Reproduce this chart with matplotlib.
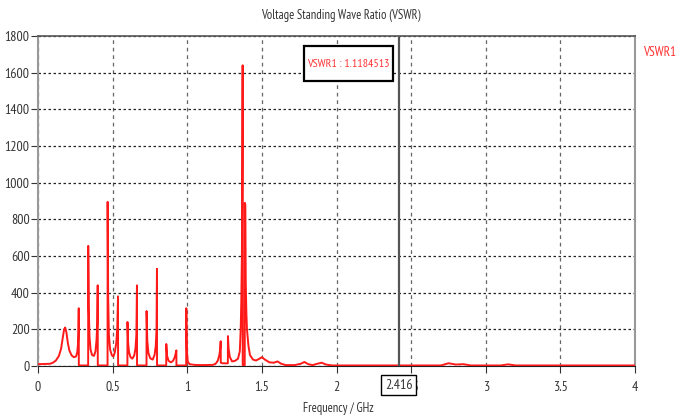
import matplotlib
matplotlib.use("Agg")
import matplotlib.pyplot as plt
from matplotlib.patches import Rectangle

# VSWR trace: (GHz, VSWR)
freq_low = [0.00, 0.08, 0.10, 0.12, 0.14, 0.155, 0.165, 0.175, 0.182, 0.19, 0.20,
            0.21, 0.225, 0.24, 0.255, 0.263, 0.268, 0.271, 0.273, 0.2735]
vswr_low = [10, 12, 18, 30, 55, 95, 150, 200, 210, 185, 125,
            85, 58, 48, 52, 75, 120, 190, 315, 3]

freq_mid = [0.336, 0.3365, 0.34, 0.345, 0.352, 0.362, 0.375, 0.385, 0.392, 0.397, 0.400, 0.4005,
            0.466, 0.4665, 0.47, 0.475, 0.483, 0.495, 0.505, 0.515, 0.525, 0.531, 0.536, 0.5365,
            0.599, 0.5995, 0.604, 0.61, 0.62, 0.632, 0.645, 0.653, 0.659, 0.663, 0.6635,
            0.727, 0.7275, 0.732, 0.74, 0.752, 0.768, 0.781, 0.789, 0.794, 0.797, 0.7975,
            0.859, 0.8595, 0.865, 0.875, 0.89, 0.905, 0.917, 0.923, 0.927, 0.9275,
            0.993, 0.9935, 0.997, 1.003, 1.015, 1.05, 1.10, 1.17]
vswr_mid = [3, 655, 320, 160, 90, 60, 55, 80, 140, 230, 440, 3,
            3, 895, 380, 170, 90, 58, 52, 75, 130, 210, 380, 3,
            3, 240, 125, 75, 48, 40, 58, 95, 170, 440, 3,
            3, 300, 140, 70, 42, 35, 60, 110, 200, 530, 3,
            3, 120, 55, 28, 20, 28, 50, 70, 85, 3,
            3, 315, 90, 25, 10, 6, 5, 6]

freq_high = [1.19, 1.205, 1.215, 1.221, 1.224, 1.2245, 1.235, 1.25, 1.262, 1.272, 1.2725,
             1.277, 1.285, 1.30, 1.32, 1.34, 1.352, 1.358, 1.362, 1.366, 1.369, 1.371, 1.3715,
             1.385, 1.3855, 1.389, 1.392, 1.396, 1.40, 1.41, 1.42, 1.44, 1.46, 1.48, 1.50,
             1.52, 1.55, 1.58, 1.605, 1.63, 1.66, 1.72, 1.76, 1.785, 1.81, 1.84, 1.87, 1.90,
             1.93, 1.97, 2.70, 2.75, 2.80, 2.85, 2.90, 3.10, 3.15, 3.20, 4.00]
vswr_high = [12, 30, 60, 95, 135, 18, 15, 15, 14, 15, 163,
             95, 50, 25, 28, 40, 80, 200, 350, 600, 1100, 1640, 5,
             5, 890, 880, 450, 290, 200, 110, 60, 35, 30, 38, 48,
             35, 20, 18, 25, 12, 5, 5, 12, 22, 10, 5, 12, 18,
             8, 3, 3, 15, 8, 10, 3, 3, 9, 3, 3]

freq = freq_low + freq_mid + freq_high
vswr = vswr_low + vswr_mid + vswr_high

x_ticks = [0, 0.5, 1, 1.5, 2, 2.5, 3, 3.5, 4]
x_labels = ["0", "0.5", "1", "1.5", "2", "2.5", "3", "3.5", "4"]
y_ticks = [0, 200, 400, 600, 800, 1000, 1200, 1400, 1600, 1800]
marker_freq = 2.416
marker_text = "VSWR1 : 1.1184513"

plt.rcParams["font.family"] = ["PT Sans Narrow", "Roboto Condensed", "DejaVu Sans"]

fig = plt.figure(figsize=(6.86, 4.17), dpi=100)
ax = fig.add_axes([0.0554, 0.1223, 0.8703, 0.7914])

ax.plot(freq, vswr, color="#ff1a1a", lw=1.4, zorder=3)
ax.axvline(marker_freq, color="#555555", lw=1.6, zorder=4)

ax.set_xlim(0, 4)
ax.set_ylim(0, 1800)
ax.set_xticks(x_ticks)
ax.set_xticklabels(x_labels)
ax.set_yticks(y_ticks)
ax.grid(axis="x", color="#666666", ls=(0, (3, 3)), lw=0.9)
ax.grid(axis="y", color="#222222", ls=(0, (2, 2)), lw=0.9)
ax.tick_params(axis="both", labelsize=10, colors="#333333", length=5, width=0.8)
ax.tick_params(axis="x", pad=6)
ax.tick_params(axis="y", pad=1)

for side in ["left", "right"]:
    ax.spines[side].set_color("#999999")
    ax.spines[side].set_linewidth(1.5)
ax.spines["top"].set_color("#555555")
ax.spines["top"].set_linewidth(1.2)
ax.spines["bottom"].set_color("#222222")

# marker readout box
ax.add_patch(Rectangle((0.4456, 0.8636), 0.149, 0.1064, transform=ax.transAxes,
                       fc="white", ec="black", lw=1.6, zorder=5, clip_on=False))
ax.text(0.5203, 0.9155, marker_text, transform=ax.transAxes, ha="center", va="center",
        color="#ff3333", fontsize=8.6, zorder=6)
ax.annotate("2.416", xy=(marker_freq, 0), xycoords=("data", "axes fraction"),
            xytext=(0, -14), textcoords="offset points", ha="center", va="center",
            fontsize=10, color="#333333", annotation_clip=False, zorder=6,
            bbox=dict(boxstyle="square,pad=0.25", fc="white", ec="black", lw=1.0))

fig.text(0.497, 0.962, "Voltage Standing Wave Ratio (VSWR)", ha="center", va="center",
         fontsize=9, color="#333333")
fig.text(0.493, 0.021, "Frequency / GHz", ha="center", va="center",
         fontsize=9, color="#333333")
fig.text(0.937, 0.875, "VSWR1", ha="left", va="center", fontsize=9.5, color="#ff3333")

fig.savefig("out.png", dpi=100)
